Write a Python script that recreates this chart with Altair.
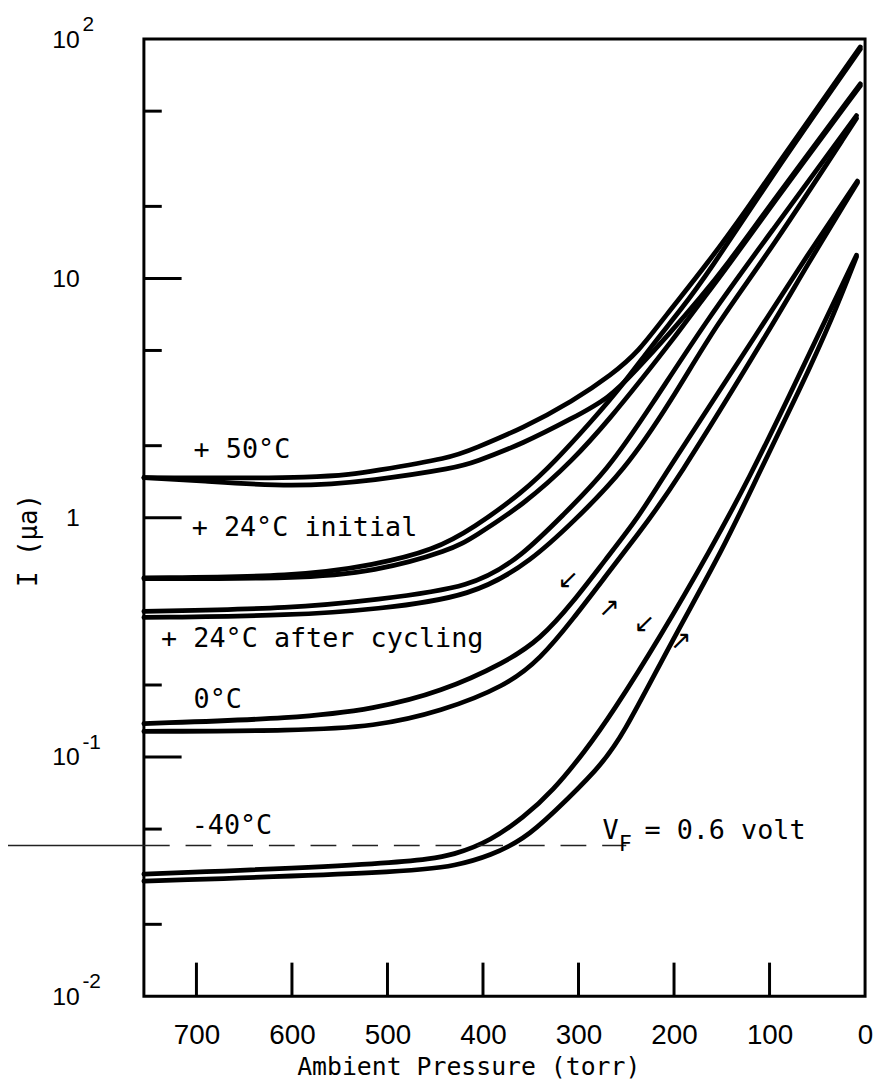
import altair as alt
import pandas as pd

# ---------------- data ----------------
# pressure in torr, current I in micro-amps
p_50_a = [755, 564, 513, 433, 410, 358, 306, 265, 237, 210, 165, 118, 100, 5]
i_50_a = [1.47, 1.46, 1.57, 1.78, 1.94, 2.37, 3.07, 3.97, 4.95, 6.9, 11.5, 21.0, 26.8, 92.7]

p_50_b = [755, 698, 598, 513, 427, 410, 358, 306, 268, 241, 203, 172, 146, 100, 5]
i_50_b = [1.47, 1.43, 1.34, 1.43, 1.62, 1.70, 2.04, 2.61, 3.16, 4.08, 5.99, 8.36, 11.2, 20.1, 65.0]

p_24i_a = [755, 595, 513, 451, 410, 358, 324, 286, 255, 224, 193, 165, 100, 5]
i_24i_a = [0.561, 0.567, 0.635, 0.733, 0.905, 1.28, 1.73, 2.54, 3.54, 5.19, 7.39, 10.4, 26.0, 90.8]

p_24i_b = [755, 595, 513, 433, 410, 358, 306, 265, 234, 203, 172, 146, 100, 5]
i_24i_b = [0.556, 0.556, 0.594, 0.733, 0.830, 1.13, 1.73, 2.66, 3.79, 5.44, 7.97, 10.9, 19.7, 63.8]

p_24c_a = [755, 595, 513, 410, 358, 317, 270, 224, 165, 100, 9]
i_24c_a = [0.406, 0.418, 0.455, 0.510, 0.699, 1.02, 1.57, 2.93, 6.78, 15.3, 47.9]

p_24c_b = [755, 595, 513, 410, 348, 306, 252, 203, 155, 100, 9]
i_24c_b = [0.383, 0.391, 0.414, 0.468, 0.667, 0.958, 1.57, 3.07, 6.5, 12.9, 46.6]

p_0_a = [755, 595, 513, 444, 376, 340, 306, 272, 237, 214, 103, 64, 8]
i_0_a = [0.138, 0.145, 0.159, 0.187, 0.249, 0.311, 0.442, 0.667, 1.005, 1.43, 6.78, 11.9, 25.5]

p_0_b = [755, 595, 513, 444, 376, 340, 306, 272, 237, 203, 93, 64, 8]
i_0_b = [0.128, 0.129, 0.134, 0.155, 0.198, 0.257, 0.376, 0.567, 0.863, 1.30, 6.78, 10.8, 25.1]

p_m40_a = [755, 479, 427, 392, 358, 327, 293, 265, 214, 162, 121, 79, 38, 9]
i_m40_a = [0.0324, 0.0359, 0.0392, 0.0448, 0.0557, 0.072, 0.106, 0.152, 0.320, 0.733, 1.47, 3.25, 7.18, 12.5]

p_m40_b = [755, 479, 427, 392, 358, 327, 279, 255, 203, 149, 110, 69, 33, 9]
i_m40_b = [0.0303, 0.0330, 0.0352, 0.0388, 0.0451, 0.058, 0.0898, 0.120, 0.302, 0.733, 1.57, 3.38, 7.0, 12.3]

curve_names = ["50a", "50b", "24ia", "24ib", "24ca", "24cb", "0a", "0b", "m40a", "m40b"]
curve_p = [p_50_a, p_50_b, p_24i_a, p_24i_b, p_24c_a, p_24c_b, p_0_a, p_0_b, p_m40_a, p_m40_b]
curve_i = [i_50_a, i_50_b, i_24i_a, i_24i_b, i_24c_a, i_24c_b, i_0_a, i_0_b, i_m40_a, i_m40_b]

# axis ticks / labels
x_label_values = [700, 600, 500, 400, 300, 200, 100, 0]
x_inner_ticks = [700, 600, 500, 400, 300, 200, 100]
y_label_values = [100, 10, 1, 0.1, 0.01]
y_major_ticks = [10, 1, 0.1]
y_minor_ticks = [50, 20, 5, 2, 0.2, 0.05, 0.02]
exp_values = [100, 0.1, 0.01]
exp_texts = ["2", "-1", "-2"]

# curve annotations
ann_text = ["+ 50°C", "+ 24°C initial", "+ 24°C after cycling", "0°C", "-40°C"]
ann_p = [703, 705, 737, 703, 705]
ann_i = [1.92, 0.905, 0.310, 0.1735, 0.0516]

vf_text = ["V", "= 0.6 volt"]
vf_p = [275, 231]
vf_i = [0.0492, 0.0492]
vf_sub_text = ["F"]
vf_sub_p = [258]
vf_sub_i = [0.0435]

arrow_text = ["↙", "↗", "↙", "↗"]
arrow_p = [311, 268, 231, 193]
arrow_i = [0.551, 0.421, 0.358, 0.305]

# faint reference stroke across the sheet (solid outside, dashed inside)
stroke_out_p = [905, 755]
stroke_in_p = [755, 250]
stroke_i = [0.0427, 0.0427]

# ---------------- chart ----------------
W, H = 727, 965
MONO = "DejaVu Sans Mono"
SANS = "Liberation Sans"

rows = []
for name, ps, vs in zip(curve_names, curve_p, curve_i):
    for p, v in zip(ps, vs):
        rows.append({"curve": name, "P": p, "I": v})
curves_df = pd.DataFrame(rows)

x_scale = alt.Scale(domain=[0, 755], reverse=True, nice=False, zero=False)
y_scale = alt.Scale(type="log", domain=[0.01, 100], nice=False)

x_axis = alt.Axis(
    values=x_label_values, ticks=False, domain=False, grid=False,
    labelFont=SANS, labelFontSize=28, labelColor="black", labelPadding=26,
    labelFlush=False,
    title="Ambient Pressure (torr)", titleFont=MONO, titleFontSize=25,
    titleFontWeight="normal", titleColor="black",
    titleX=327, titleY=71, titleAlign="center", titleBaseline="middle",
)
y_axis = alt.Axis(
    values=y_label_values, labelExpr="datum.value == 1 ? '1' : '10'",
    ticks=False, domain=False, grid=False,
    labelFont=SANS, labelFontSize=25, labelColor="black", labelPadding=65,
    labelBaseline="middle",
    title="I (μa)", titleFont=MONO, titleFontSize=26, titleFontWeight="normal",
    titleColor="black", titleX=-116, titleY=505, titleAngle=270,
    titleAlign="center", titleBaseline="middle",
)

lines = alt.Chart(curves_df).mark_line(
    color="black", strokeWidth=4.8, interpolate="basis",
    strokeCap="round", strokeJoin="round",
).encode(
    x=alt.X("P:Q", scale=x_scale, axis=x_axis),
    y=alt.Y("I:Q", scale=y_scale, axis=y_axis),
    detail="curve:N",
)

y_major = alt.Chart(pd.DataFrame({"I": y_major_ticks})).mark_rule(
    color="black", strokeWidth=3
).encode(y=alt.Y("I:Q", scale=y_scale), x=alt.value(0), x2=alt.value(38))

y_minor = alt.Chart(pd.DataFrame({"I": y_minor_ticks})).mark_rule(
    color="black", strokeWidth=3
).encode(y=alt.Y("I:Q", scale=y_scale), x=alt.value(0), x2=alt.value(18))

x_ticks = alt.Chart(pd.DataFrame({"P": x_inner_ticks})).mark_rule(
    color="black", strokeWidth=3
).encode(x=alt.X("P:Q", scale=x_scale), y=alt.value(H), y2=alt.value(H - 34))

stroke_out = alt.Chart(pd.DataFrame({"P": stroke_out_p, "I": stroke_i})).mark_line(
    color="#222222", strokeWidth=1.3
).encode(x=alt.X("P:Q", scale=x_scale), y=alt.Y("I:Q", scale=y_scale))

stroke_in = alt.Chart(pd.DataFrame({"P": stroke_in_p, "I": stroke_i})).mark_line(
    color="#222222", strokeWidth=1.3, strokeDash=[26, 16]
).encode(x=alt.X("P:Q", scale=x_scale), y=alt.Y("I:Q", scale=y_scale))

exps = alt.Chart(pd.DataFrame({"I": exp_values, "t": exp_texts})).mark_text(
    align="left", baseline="middle", dy=-14, font=SANS, fontSize=21, color="black"
).encode(x=alt.value(-62), y=alt.Y("I:Q", scale=y_scale), text="t:N")

ann = alt.Chart(pd.DataFrame({"P": ann_p, "I": ann_i, "t": ann_text})).mark_text(
    align="left", baseline="middle", font=MONO, fontSize=27, color="black"
).encode(x=alt.X("P:Q", scale=x_scale), y=alt.Y("I:Q", scale=y_scale), text="t:N")

vf = alt.Chart(pd.DataFrame({"P": vf_p, "I": vf_i, "t": vf_text})).mark_text(
    align="left", baseline="middle", font=MONO, fontSize=27, color="black"
).encode(x=alt.X("P:Q", scale=x_scale), y=alt.Y("I:Q", scale=y_scale), text="t:N")

vf_sub = alt.Chart(pd.DataFrame({"P": vf_sub_p, "I": vf_sub_i, "t": vf_sub_text})).mark_text(
    align="left", baseline="middle", font=MONO, fontSize=22, color="black"
).encode(x=alt.X("P:Q", scale=x_scale), y=alt.Y("I:Q", scale=y_scale), text="t:N")

arrows = alt.Chart(pd.DataFrame({"P": arrow_p, "I": arrow_i, "t": arrow_text})).mark_text(
    align="center", baseline="middle", font="DejaVu Sans", fontSize=26, color="black"
).encode(x=alt.X("P:Q", scale=x_scale), y=alt.Y("I:Q", scale=y_scale), text="t:N")

chart = alt.layer(
    lines, y_major, y_minor, x_ticks, stroke_out, stroke_in, exps, ann, vf, vf_sub, arrows
).properties(
    width=W, height=H,
    padding={"left": 137, "top": 27, "right": 8, "bottom": 84},
    autosize=alt.AutoSizeParams(type="none"),
    background="white",
).configure_view(stroke="black", strokeWidth=3)

chart.save("out.html", embed_options={"renderer": "svg", "actions": False})
